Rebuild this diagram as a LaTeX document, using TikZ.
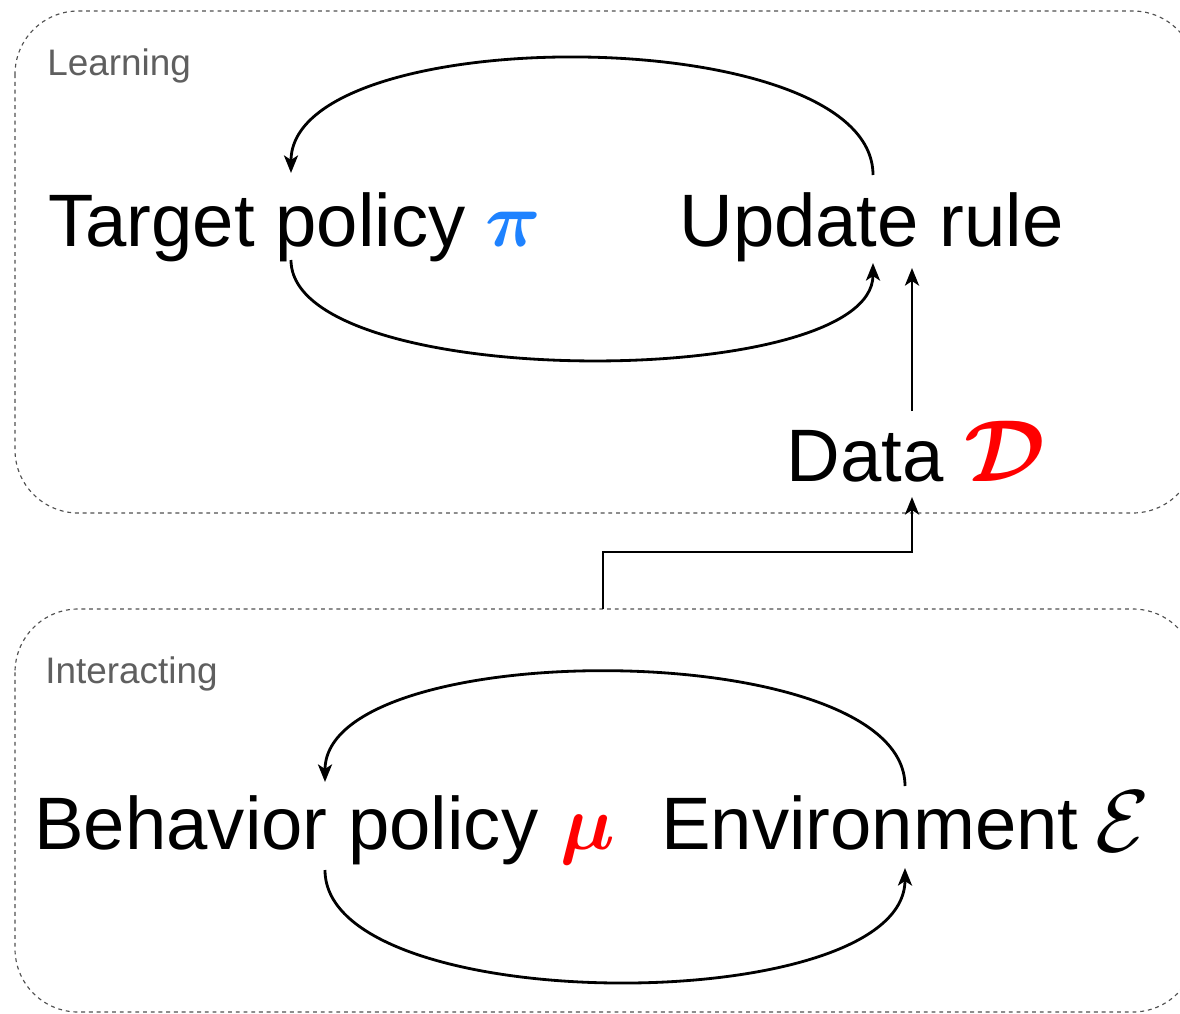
\RequirePackage{fix-cm}
\documentclass[tikz,border=0pt]{standalone}
\usepackage{amsmath,amsbsy}
\usepackage{fontspec}
\setmainfont{Liberation Sans}
\usetikzlibrary{arrows.meta}
\definecolor{piblue}{RGB}{30,130,255}
\definecolor{framegray}{RGB}{80,80,80}
\definecolor{labelgray}{RGB}{95,95,95}

\begin{document}
\begin{tikzpicture}[x=0.02cm,y=-0.02cm,
  frame/.style={draw=framegray, line width=0.65pt, dash pattern=on 2.2pt off 2.2pt, rounded corners=36pt},
  grouplabel/.style={inner sep=0pt, anchor=base west, text=labelgray, font=\fontsize{21}{25}\selectfont},
  term/.style={inner sep=0pt, anchor=base west, font=\fontsize{42.3}{50}\selectfont},
  sym/.style={inner sep=0pt, anchor=base west, font=\fontsize{44}{52}\selectfont},
  bigsym/.style={inner sep=0pt, anchor=base west, font=\fontsize{50}{58}\selectfont},
  link/.style={line width=1.6pt, -{Stealth[length=10pt,width=8pt,inset=2.6pt]}}]

\useasboundingbox (0,0) rectangle (1180,1014);
\clip (0,0) rectangle (1180,1014);
\fill[white] (0,0) rectangle (1180,1014);

% group frames
\draw[frame] (15,11) rectangle (1196,513);
\draw[frame] (15,609) rectangle (1196,1012);
\node[grouplabel] (learnlbl) at (47,75) {Learning};
\node[grouplabel] (interlbl) at (45,683) {Interacting};

% learning loop
\node[term] (target) at (48,246) {Target policy};
\node[sym, text=piblue] (pi) at (485,246) {$\boldsymbol{\pi}$};
\node[term] (update) at (679,246) {Update rule};
\node[term] (data) at (786,481) {Data};
\node[bigsym, text=red] (dset) at (964,481) {$\boldsymbol{\mathcal{D}}$};

% interacting loop
\node[term] (behav) at (34,849) {Behavior policy};
\node[sym, text=red] (mu) at (560,849) {$\boldsymbol{\mu}$};
\node[term] (env) at (661,849) {Environment};
\node[bigsym] (envsym) at (1095,851) {$\mathcal{E}$};

% attachment points on the labels
\coordinate (target-n) at (291,173);
\coordinate (target-s) at (291,260);
\coordinate (update-n) at (873,175);
\coordinate (update-s) at (873,263);
\coordinate (update-in) at (912,268);
\coordinate (data-n) at (912,411);
\coordinate (data-s) at (912,497);
\coordinate (interact-n) at (603,609);
\coordinate (behav-n) at (325,782);
\coordinate (behav-s) at (325,870);
\coordinate (env-n) at (905,786);
\coordinate (env-s) at (905,868);

\draw[link] (update-n) .. controls (873,20) and (291,20) .. (target-n);
\draw[link] (target-s) .. controls (291,392) and (873,392) .. (update-s);
\draw[link] (data-n) -- (update-in);
\draw[link] (interact-n) |- (760,552) -| (data-s);

\draw[link] (env-n) .. controls (905,635) and (325,635) .. (behav-n);
\draw[link] (behav-s) .. controls (325,1019) and (905,1019) .. (env-s);
\end{tikzpicture}
\end{document}
